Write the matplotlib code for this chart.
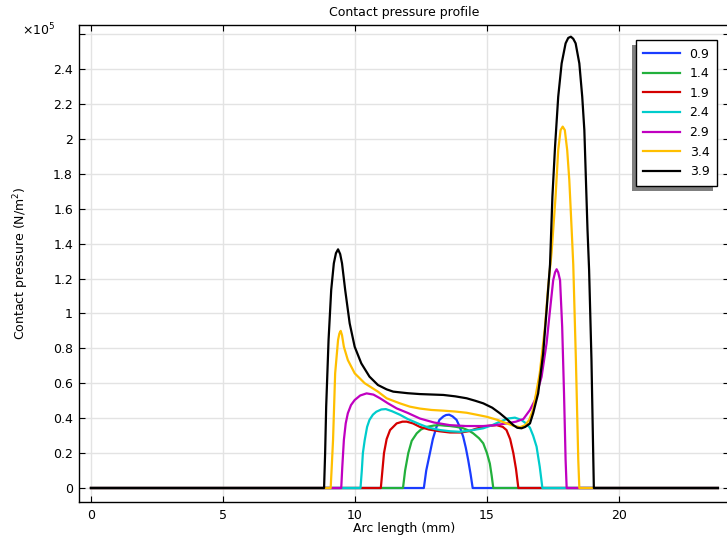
import matplotlib
matplotlib.use("Agg")
import matplotlib.pyplot as plt
from matplotlib.patches import Rectangle
from matplotlib.transforms import IdentityTransform

plt.rcParams['font.family'] = ['DejaVu Sans']
plt.rcParams['mathtext.default'] = 'regular'

# ---- data (x in mm, contact pressure in 1e5 N/m^2) ----
labels = ["0.9", "1.4", "1.9", "2.4", "2.9", "3.4", "3.9"]
colors = ["#1a3cff", "#22b03c", "#d40000", "#00cccc", "#c000c0", "#ffbf00", "#000000"]

x_09 = [0, 12.61, 12.7, 12.84, 12.95, 13.09, 13.2, 13.35, 13.45, 13.57, 13.7, 13.85, 13.97, 14.1, 14.2, 14.29, 14.38, 14.46, 23.75]
y_09 = [0, 0, 0.1, 0.2, 0.28, 0.35, 0.39, 0.41, 0.418, 0.42, 0.41, 0.39, 0.35, 0.294, 0.23, 0.16, 0.08, 0, 0]

x_14 = [0, 11.82, 11.9, 12.02, 12.15, 12.34, 12.5, 12.72, 13.0, 13.22, 13.4, 13.6, 13.85, 14.1, 14.3, 14.48, 14.7, 14.86, 15.0, 15.11, 15.18, 15.24, 23.75]
y_14 = [0, 0, 0.1, 0.2, 0.27, 0.313, 0.335, 0.35, 0.358, 0.36, 0.357, 0.355, 0.35, 0.342, 0.33, 0.313, 0.285, 0.256, 0.2, 0.14, 0.07, 0, 0]

x_19 = [0, 10.98, 11.04, 11.1, 11.2, 11.33, 11.58, 11.8, 11.96, 12.2, 12.46, 12.8, 13.2, 13.6, 14.0, 14.3, 14.6, 15.0, 15.37, 15.6, 15.74, 15.88, 16.0, 16.1, 16.19, 23.75]
y_19 = [0, 0, 0.1, 0.2, 0.28, 0.332, 0.37, 0.38, 0.38, 0.37, 0.35, 0.335, 0.325, 0.318, 0.318, 0.325, 0.34, 0.355, 0.36, 0.35, 0.332, 0.28, 0.2, 0.11, 0, 0]

x_24 = [0, 10.21, 10.26, 10.3, 10.37, 10.46, 10.55, 10.68, 10.81, 11.0, 11.17, 11.4, 11.7, 12.0, 12.46, 12.8, 13.22, 13.6, 13.98, 14.4, 14.86, 15.2, 15.49, 15.8, 16.06, 16.3, 16.5, 16.63, 16.75, 16.88, 17.0, 17.06, 17.1, 23.75]
y_24 = [0, 0, 0.1, 0.2, 0.275, 0.35, 0.39, 0.42, 0.437, 0.45, 0.452, 0.44, 0.42, 0.395, 0.365, 0.345, 0.332, 0.325, 0.322, 0.33, 0.342, 0.36, 0.38, 0.398, 0.403, 0.39, 0.368, 0.345, 0.3, 0.237, 0.122, 0.05, 0, 0]

x_29 = [0, 9.48, 9.52, 9.58, 9.65, 9.73, 9.85, 9.99, 10.2, 10.44, 10.7, 10.95, 11.25, 11.58, 12.0, 12.46, 13.0, 13.6, 14.2, 14.86, 15.3, 15.75, 16.1, 16.38, 16.63, 16.82, 17.07, 17.26, 17.39, 17.51, 17.58, 17.64, 17.7, 17.77, 17.85, 17.92, 17.98, 18.02, 23.75]
y_29 = [0, 0, 0.12, 0.275, 0.37, 0.428, 0.475, 0.504, 0.53, 0.542, 0.535, 0.514, 0.485, 0.456, 0.43, 0.398, 0.375, 0.36, 0.355, 0.355, 0.36, 0.37, 0.38, 0.395, 0.447, 0.504, 0.637, 0.83, 1.02, 1.19, 1.235, 1.253, 1.235, 1.19, 0.924, 0.542, 0.16, 0, 0]

x_34 = [0, 9.08, 9.12, 9.17, 9.25, 9.36, 9.41, 9.46, 9.51, 9.58, 9.73, 9.99, 10.37, 10.87, 11.2, 11.7, 12.08, 12.46, 12.9, 13.35, 13.8, 14.23, 14.6, 14.99, 15.4, 15.75, 16.0, 16.25, 16.45, 16.6, 16.75, 17.0, 17.2, 17.32, 17.45, 17.6, 17.7, 17.79, 17.87, 17.95, 18.04, 18.12, 18.21, 18.27, 18.37, 18.46, 18.5, 23.75]
y_34 = [0, 0, 0.12, 0.275, 0.657, 0.848, 0.885, 0.90, 0.875, 0.809, 0.733, 0.657, 0.6, 0.552, 0.514, 0.485, 0.466, 0.455, 0.447, 0.443, 0.438, 0.431, 0.42, 0.408, 0.39, 0.37, 0.357, 0.348, 0.36, 0.39, 0.45, 0.657, 0.924, 1.153, 1.35, 1.669, 1.936, 2.05, 2.07, 2.05, 1.936, 1.764, 1.478, 1.28, 0.733, 0.16, 0, 0]

x_39 = [0, 8.83, 8.87, 8.91, 9.0, 9.1, 9.2, 9.28, 9.36, 9.44, 9.51, 9.63, 9.8, 9.99, 10.24, 10.55, 10.87, 11.2, 11.45, 12.0, 12.46, 13.35, 13.8, 14.23, 14.55, 14.86, 15.2, 15.49, 15.75, 16.0, 16.15, 16.31, 16.45, 16.63, 16.75, 16.94, 17.13, 17.26, 17.39, 17.48, 17.58, 17.70, 17.83, 17.98, 18.08, 18.18, 18.27, 18.36, 18.5, 18.61, 18.69, 18.75, 18.81, 18.87, 18.96, 19.03, 19.05, 23.75]
y_39 = [0, 0, 0.2, 0.466, 0.848, 1.134, 1.287, 1.345, 1.367, 1.34, 1.287, 1.134, 0.943, 0.809, 0.714, 0.638, 0.59, 0.565, 0.552, 0.543, 0.538, 0.533, 0.525, 0.514, 0.5, 0.485, 0.46, 0.428, 0.395, 0.36, 0.345, 0.342, 0.35, 0.37, 0.428, 0.542, 0.77, 1.02, 1.28, 1.669, 1.955, 2.241, 2.432, 2.547, 2.578, 2.585, 2.573, 2.547, 2.432, 2.241, 2.05, 1.764, 1.478, 1.25, 0.733, 0.16, 0, 0]

series_x = [x_09, x_14, x_19, x_24, x_29, x_34, x_39]
series_y = [y_09, y_14, y_19, y_24, y_29, y_34, y_39]

xticks = [0, 5, 10, 15, 20]
yticks = [0, 0.2, 0.4, 0.6, 0.8, 1.0, 1.2, 1.4, 1.6, 1.8, 2.0, 2.2, 2.4, 2.6]
yticklabels = ["0", "0.2", "0.4", "0.6", "0.8", "1", "1.2", "1.4", "1.6", "1.8", "2", "2.2", "2.4", ""]

W, H = 727, 539
fig = plt.figure(figsize=(W / 100, H / 100), dpi=100)
L, R, T, B = 78.5, 729, 25, 501.5
ax = fig.add_axes([L / W, 1 - B / H, (R - L) / W, (B - T) / H])

for xs, ys, c, lab in zip(series_x, series_y, colors, labels):
    ax.plot(xs, ys, color=c, lw=1.6, label=lab, solid_joinstyle='round')

ax.set_xlim(-0.473, 24.17)
ax.set_ylim(-0.0773, 2.652)
ax.set_xticks(xticks)
ax.set_yticks(yticks)
ax.set_yticklabels(yticklabels)
ax.grid(True, color="#e3e3e3", lw=1.0)
ax.set_axisbelow(True)
ax.tick_params(direction='in', length=4, width=0.8, top=True, right=True,
               labelsize=9, colors='black')
ax.tick_params(axis='x', pad=5.5)
ax.tick_params(axis='y', pad=4)
for s in ax.spines.values():
    s.set_linewidth(1.0)
    s.set_color('black')

ax.set_title("Contact pressure profile", fontsize=9, pad=6.5)
ax.set_xlabel("Arc length (mm)", fontsize=9, labelpad=0)
ax.set_ylabel("Contact pressure (N/m$^2$)", fontsize=9, labelpad=16)
fig.text(55 / W, 1 - 30 / H, r"$\times10^5$", fontsize=9, ha='right', va='center')

leg = ax.legend(loc='upper right', bbox_to_anchor=(1 - 12 / (R - L), 1 - 15 / (B - T)),
                borderaxespad=0, fancybox=False, framealpha=1, edgecolor='black',
                fontsize=9, handlelength=2.9, handletextpad=0.8, labelspacing=0.53,
                borderpad=0.6)
leg.get_frame().set_linewidth(1.0)

fig.canvas.draw()
bb = leg.get_window_extent()
shadow = Rectangle((bb.x0 - 4, bb.y0 - 5), bb.width, bb.height, transform=IdentityTransform(),
                   facecolor='#7f7f7f', edgecolor='none', zorder=4.9)
ax.add_artist(shadow)

fig.savefig("out.png", dpi=100)
